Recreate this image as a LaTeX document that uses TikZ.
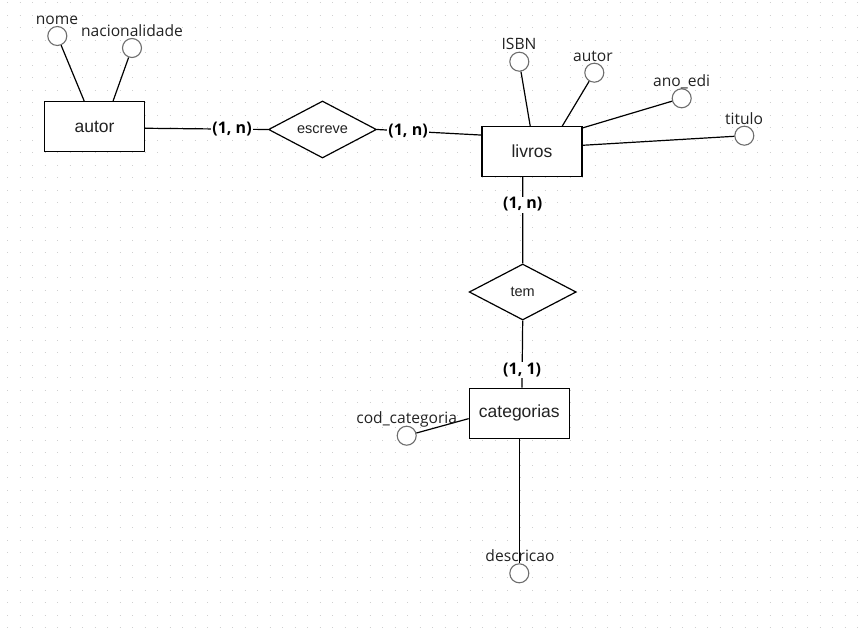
\documentclass[tikz,border=0pt]{standalone}
\usepackage{fontspec}
\setmainfont{Liberation Sans}
\newfontfamily\attrfont{Open Sans}
\usetikzlibrary{shapes.geometric}
\definecolor{circgray}{HTML}{6E6E6E}
\definecolor{txt}{HTML}{222222}
\definecolor{gridc}{HTML}{CFCFCF}
\begin{document}
\begin{tikzpicture}[x=1pt,y=-1pt,
 entity/.style={draw=black,fill=white,line width=1.2pt,minimum width=100pt,minimum height=50pt,inner sep=0pt,text=txt,font=\fontsize{17.5}{20}\selectfont},
 rel/.style={draw=black,fill=white,line width=1.2pt,diamond,aspect=1.9,minimum width=108pt,minimum height=57pt,inner sep=0pt,text=txt,font=\fontsize{14.5}{17}\selectfont},
 attr/.style={draw=circgray,fill=white,circle,line width=1.1pt,minimum size=19pt,inner sep=0pt},
 attrlbl/.style={anchor=base,inner sep=0pt,text=txt,font=\attrfont\fontsize{15.6}{18}\selectfont},
 card/.style={fill=white,inner sep=1pt,text=black,font=\attrfont\bfseries\fontsize{16}{18}\selectfont},
 conn/.style={line width=1.2pt,draw=black}
]
\useasboundingbox (0,0) rectangle (865,632);
\fill[white] (0,0) rectangle (865,632);
% dotted grid
\foreach \j in {0,...,50}{
  \draw[gridc,line width=1pt,dash pattern=on 1pt off 11.5pt] (7,2.5+12.5*\j) -- (865,2.5+12.5*\j);
}
% entities and relationships
\node[entity] (autor) at (94.5,126.5) {autor};
\node[rel] (escreve) at (322.5,129.5) {escreve};
\node[entity,minimum height=49.5pt] (livros) at (532,151.5) {livros};
\node[rel,minimum width=107pt,minimum height=56pt] (tem) at (522.7,292) {tem};
\node[entity] (categorias) at (519.3,413.3) {categorias};
% attributes
\node[attr] (nome) at (57.3,36) {};
\node[attr] (nac) at (132,48) {};
\node[attr] (isbn) at (519.3,61.7) {};
\node[attr] (autorl) at (594.3,72.7) {};
\node[attr] (anoedi) at (681.7,98.3) {};
\node[attr] (titulo) at (744.3,135.7) {};
\node[attr] (cod) at (406.7,435.7) {};
\node[attr] (descr) at (519.3,573.3) {};
% connectors
\draw[conn] (nome) -- (autor.112.4);
\draw[conn] (nac) -- (autor.54);
\draw[conn] (isbn) -- (livros.94.7);
\draw[conn] (autorl) -- (livros.40.2);
\draw[conn] (anoedi) -- (livros.25.8);
\draw[conn] (titulo) -- (livros.7.7);
\draw[conn] (cod) -- (categorias.186.8);
\draw[conn] (categorias.south) -- (descr);
\draw[conn] (autor.-2) -- node[card,pos=0.708] (c1) {(1, n)} (escreve.west);
\draw[conn] (escreve.east) -- node[card,pos=0.297] (c2) {(1, n)} (livros.162.8);
\draw[conn] (livros.250.4) -- node[card,pos=0.32] (c3) {(1, n)} (tem.north);
\draw[conn] (tem.south) -- node[card,pos=0.742] (c4) {(1, 1)} (categorias.84.5);
% attribute labels
\node[attrlbl] (lnome) at (57,24) {nome};
\node[attrlbl] (lnac) at (132,36.7) {nacionalidade};
\node[attrlbl] (lisbn) at (519,49.3) {ISBN};
\node[attrlbl] (lautor) at (593,61.7) {autor};
\node[attrlbl] (lano) at (681.7,86.7) {ano\_edi};
\node[attrlbl] (ltit) at (744,124) {titulo};
\node[attrlbl] (lcod) at (406.7,423.3) {cod\_categoria};
\node[attrlbl] (ldescr) at (520,561.7) {descricao};
\end{tikzpicture}
\end{document}
